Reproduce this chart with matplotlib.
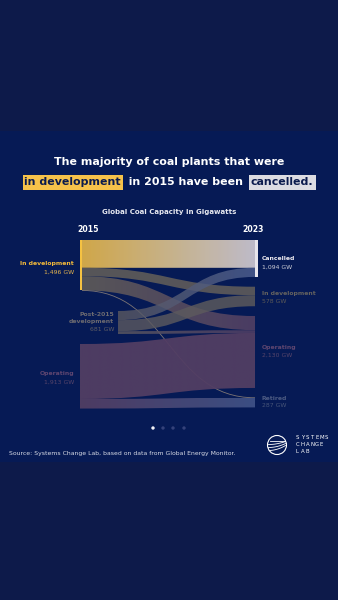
import matplotlib
matplotlib.use("Agg")
import matplotlib.pyplot as plt
import numpy as np
from matplotlib.colors import to_rgba
from matplotlib.path import Path
from matplotlib.patches import PathPatch, Circle, Rectangle

# data (GW)
left_names = ["In development", "Post-2015\ndevelopment", "Operating"]
left_gw = [1496, 681, 1913]
right_names = ["Cancelled", "In development", "Operating", "Retired"]
right_gw = [1094, 578, 2130, 287]
flow_src = [0, 0, 0, 0, 1, 1, 1, 2, 2]
flow_tgt = [0, 1, 2, 3, 0, 1, 2, 2, 3]
flow_gw = [824, 250, 419, 3, 270, 328, 83, 1629, 284]

BG_OUT = "#0d1a4a"
BG_PANEL = "#061a55"
NAVY = "#0b1b4d"

plt.rcParams["font.family"] = ["DejaVu Sans"]

fig = plt.figure(figsize=(3.38, 6.0), dpi=100, facecolor=BG_OUT)
ax = fig.add_axes([0, 0, 1, 1])
ax.set_xlim(0, 338)
ax.set_ylim(600, 0)
ax.axis("off")
ax.add_patch(Rectangle((0, 131), 338, 331, facecolor=BG_PANEL, edgecolor="none", zorder=0))

# sankey layout
K = 0.03375  # px per GW
XR = 255
left_top = [240, 311, 344]
left_x = [82, 118, 80]
right_top = [240]
for v in right_gw[:-1]:
    right_top.append(right_top[-1] + v * K + 9.8)

flow_colors = [
    ("#dcb04a", "#c9c5cf", 0.95),
    ("#6a6459", "#67625b", 0.82),
    ("#6a6459", "#5a4466", 0.82),
    ("#8a7f78", "#8a7f78", 0.9),
    ("#5a5860", "#4d5f90", 0.82),
    ("#5a5860", "#605d5c", 0.82),
    ("#5a5860", "#524066", 0.85),
    ("#523e63", "#533e64", 0.95),
    ("#523e63", "#3f5186", 0.95),
]

src_off = list(left_top)
tgt_off = list(right_top)
for s, t, gw, (c0, c1, a) in zip(flow_src, flow_tgt, flow_gw, flow_colors):
    h = gw * K
    x0, x1 = left_x[s], XR
    y0, y1 = src_off[s], tgt_off[t]
    src_off[s] += h
    tgt_off[t] += h
    xm = (x0 + x1) / 2
    if gw < 10:
        verts = [(x0, y0 + h / 2), (xm, y0 + h / 2), (xm, y1 + h / 2), (x1, y1 + h / 2)]
        p = Path(verts, [Path.MOVETO, Path.CURVE4, Path.CURVE4, Path.CURVE4])
        ax.add_patch(PathPatch(p, facecolor="none", edgecolor=c0, lw=0.6, alpha=a, zorder=2))
        continue
    verts = [(x0, y0), (xm, y0), (xm, y1), (x1, y1),
             (x1, y1 + h), (xm, y1 + h), (xm, y0 + h), (x0, y0 + h), (x0, y0)]
    codes = [Path.MOVETO, Path.CURVE4, Path.CURVE4, Path.CURVE4,
             Path.LINETO, Path.CURVE4, Path.CURVE4, Path.CURVE4, Path.CLOSEPOLY]
    patch = PathPatch(Path(verts, codes), facecolor="none", edgecolor="none")
    ax.add_patch(patch)
    ca, cb = np.array(to_rgba(c0)), np.array(to_rgba(c1))
    tt = np.linspace(0, 1, 64)[:, None]
    grad = (ca * (1 - tt) + cb * tt)[None, :, :]
    grad[..., 3] = a
    ymin, ymax = min(y0, y1), max(y0, y1) + h
    im = ax.imshow(grad, extent=(x0, x1, ymax, ymin), aspect="auto",
                   interpolation="bilinear", zorder=2)
    im.set_clip_path(patch)

ax.set_xlim(0, 338)
ax.set_ylim(600, 0)

# node bars
ax.add_patch(Rectangle((79.5, left_top[0]), 2.7, left_gw[0] * K, facecolor="#f5c242", edgecolor="none", zorder=3))
ax.add_patch(Rectangle((255, right_top[0]), 3, right_gw[0] * K, facecolor="#e8e5ec", edgecolor="none", zorder=3))

# node labels
lab_fs = 4.4
left_lab = [
    (74, ["In development", "1,496 GW"], ["#f2b93a", "#e2b24e"]),
    (114, ["Post-2015", "development", "681 GW"], ["#6c6a70", "#6c6a70", "#5f5d64"]),
    (74, ["Operating", "1,913 GW"], ["#5f4670", "#56446a"]),
]
left_lab_y = [264, 314, 374]
for (x, lines, cols), y in zip(left_lab, left_lab_y):
    for i, (ln, c) in enumerate(zip(lines, cols)):
        ax.text(x, y + i * 7.8, ln, ha="right", va="center", fontsize=lab_fs,
                color=c, fontweight="bold" if "GW" not in ln else "normal")

right_cols = [("#eceaf0", "#cfcfd8"), ("#64625f", "#5c5a58"),
              ("#5f4670", "#56446a"), ("#4c5a82", "#465478")]
right_lab_y = [259, 294, 347, 398]
for name, gw, (c0, c1), y in zip(right_names, right_gw, right_cols, right_lab_y):
    ax.text(262, y, name, ha="left", va="center", fontsize=lab_fs, color=c0, fontweight="bold")
    ax.text(262, y + 7.8, f"{gw:,} GW", ha="left", va="center", fontsize=lab_fs, color=c1)

ax.text(88, 229, "2015", ha="center", va="center", fontsize=5.6, color="white", fontweight="bold")
ax.text(253, 229, "2023", ha="center", va="center", fontsize=5.6, color="white", fontweight="bold")
ax.text(169, 212, "Global Coal Capacity in Gigawatts", ha="center", va="center",
        fontsize=5.0, color="#e6e8f0", fontweight="bold")

# title
TFS = 7.9
ax.text(169, 162, "The majority of coal plants that were", ha="center", va="center",
        fontsize=TFS, color="white", fontweight="bold")

fig.canvas.draw()
renderer = fig.canvas.get_renderer()
inv = ax.transData.inverted()
segs = [("in development", NAVY, "#f6c24a"), ("  in 2015 have been  ", "white", None),
        ("cancelled.", NAVY, "#dcdce2")]
tmp = []
widths = []
for s, c, bg in segs:
    t = ax.text(0, 182, s, fontsize=TFS, fontweight="bold", va="center", ha="left", color=c)
    bb = t.get_window_extent(renderer)
    x0 = inv.transform((bb.x0, bb.y0))[0]
    x1 = inv.transform((bb.x1, bb.y0))[0]
    widths.append(x1 - x0)
    tmp.append(t)
x = 169 - sum(widths) / 2
for t, w, (s, c, bg) in zip(tmp, widths, segs):
    t.set_x(x)
    if bg:
        ax.add_patch(Rectangle((x - 2, 174.5), w + 4, 15, facecolor=bg, edgecolor="none", zorder=1))
    x += w

# pager dots
dot_x = [153, 163, 173, 184]
dot_c = ["#f2f2f6", "#34427a", "#34427a", "#34427a"]
ax.scatter(dot_x, [428] * 4, s=6, c=dot_c, edgecolors="none", zorder=3)

ax.text(9, 453, "Source: Systems Change Lab, based on data from Global Energy Monitor.",
        ha="left", va="center", fontsize=4.4, color="#d8dbe6")

# logo
ax.add_patch(Circle((277, 445), 9.5, facecolor="none", edgecolor="white", lw=0.8, zorder=3))
for dy, bend in [(-2, 3), (0.5, 4), (3, 5)]:
    xs = np.linspace(268.5, 285.5, 30)
    ys = 445 + dy + bend * ((xs - 268.5) / 17) ** 2 * -1 + bend * 0.5
    m = (xs - 277) ** 2 + (ys - 445) ** 2 < 9.3 ** 2
    ax.plot(xs[m], ys[m], color="white", lw=0.6, zorder=3)
ax.plot([270, 285], [441, 441], color="white", lw=0.6, zorder=3)
for row, word in enumerate(["SYSTEMS", "CHANGE", "LAB"]):
    for i, ch in enumerate(word):
        ax.text(296 + i * 4.8, 437.5 + row * 7, ch, ha="left", va="center",
                fontsize=3.9, color="white")

fig.savefig("out.png", dpi=100, facecolor=BG_OUT)
